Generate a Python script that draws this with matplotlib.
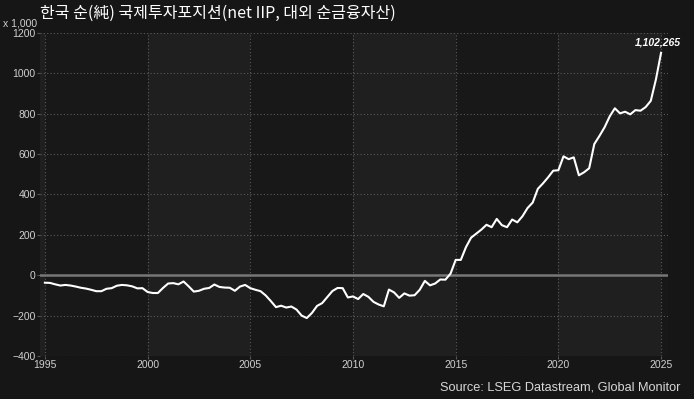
import numpy as np
import matplotlib.pyplot as plt

# quarterly net IIP, billions USD (x 1,000 mn), 1995Q1 .. 2025Q1
start_year = 1995
net_iip = [
    -37, -38, -45, -51,
    -48, -51, -56, -62,
    -66, -72, -79, -79,
    -67, -64, -52, -48,
    -50, -55, -65, -64,
    -83, -88, -88, -63,
    -41, -39, -45, -31,
    -55, -81, -77, -67,
    -63, -46, -58, -61,
    -62, -77, -56, -48,
    -64, -72, -79, -100,
    -128, -158, -151, -160,
    -155, -170, -200, -212,
    -187, -152, -138, -108,
    -78, -63, -64, -110,
    -105, -118, -93, -107,
    -132, -145, -154, -71,
    -85, -112, -90, -101,
    -99, -72, -28, -50,
    -41, -21, -22, 8,
    76, 76, 139, 186,
    206, 226, 250, 238,
    279, 248, 238, 276,
    262, 292, 333, 360,
    428, 455, 485, 518,
    520, 589, 575, 584,
    495, 510, 530, 650,
    690, 733, 787, 827,
    802, 810, 797, 818,
    815, 833, 864, 970,
    1102,
]
last_label = '1,102,265'
x_ticks = [1995, 2000, 2005, 2010, 2015, 2020, 2025]
y_ticks = [-400, -200, 0, 200, 400, 600, 800, 1000, 1200]
bands = [(1994, 1995), (2000, 2005), (2010, 2015), (2020, 2025)]

title = '한국 순(純) 국제투자포지션(net IIP, 대외 순금융자산)'
source = 'Source: LSEG Datastream, Global Monitor'

plt.rcParams['font.family'] = ['Liberation Sans', 'Noto Sans CJK KR', 'DejaVu Sans']

years = start_year + np.arange(len(net_iip)) / 4.0

bg = '#161616'
fig = plt.figure(figsize=(6.94, 3.99), dpi=100, facecolor=bg)
ax = fig.add_axes([0.0576, 0.1078, 0.905, 0.8095])
ax.set_facecolor('#181818')

# alternate shaded 5-year bands
for a, b in bands:
    ax.axvspan(a, b, color='#1f1f1f', lw=0, zorder=0)

ax.grid(True, color='#5a5a5a', linestyle=(0, (1, 2)), linewidth=0.8, zorder=1)
ax.axhline(0, color='#777777', linewidth=1.8, zorder=2)
ax.plot(years, net_iip, color='white', linewidth=1.5, zorder=3)

ax.annotate(last_label, (years[-1], net_iip[-1]), xytext=(-2, 4),
            textcoords='offset points', ha='center', va='bottom',
            color='white', fontsize=7.5, fontstyle='italic', fontweight='bold')

ax.set_xlim(1994.76, 2025.34)
ax.set_ylim(-400, 1200)
ax.set_xticks(x_ticks)
ax.set_yticks(y_ticks)
ax.tick_params(colors='#555555', labelcolor='#d0d0d0', labelsize=7.5,
               length=2, width=0.8, pad=1)
for s in ax.spines.values():
    s.set_visible(False)

fig.text(40 / 694, 1 - 13 / 399, title, color='white', fontsize=11.5,
         ha='left', va='center',
         family=['Noto Sans CJK KR', 'DejaVu Sans'])
fig.text(37 / 694, 1 - 24 / 399, 'x 1,000', color='#d0d0d0', fontsize=7.5,
         ha='right', va='center')

fig.text(680 / 694, 1 - 387 / 399, source, color='#d8d8d8', fontsize=9.2,
         ha='right', va='center')

fig.savefig('out.png', dpi=100, facecolor=bg)
